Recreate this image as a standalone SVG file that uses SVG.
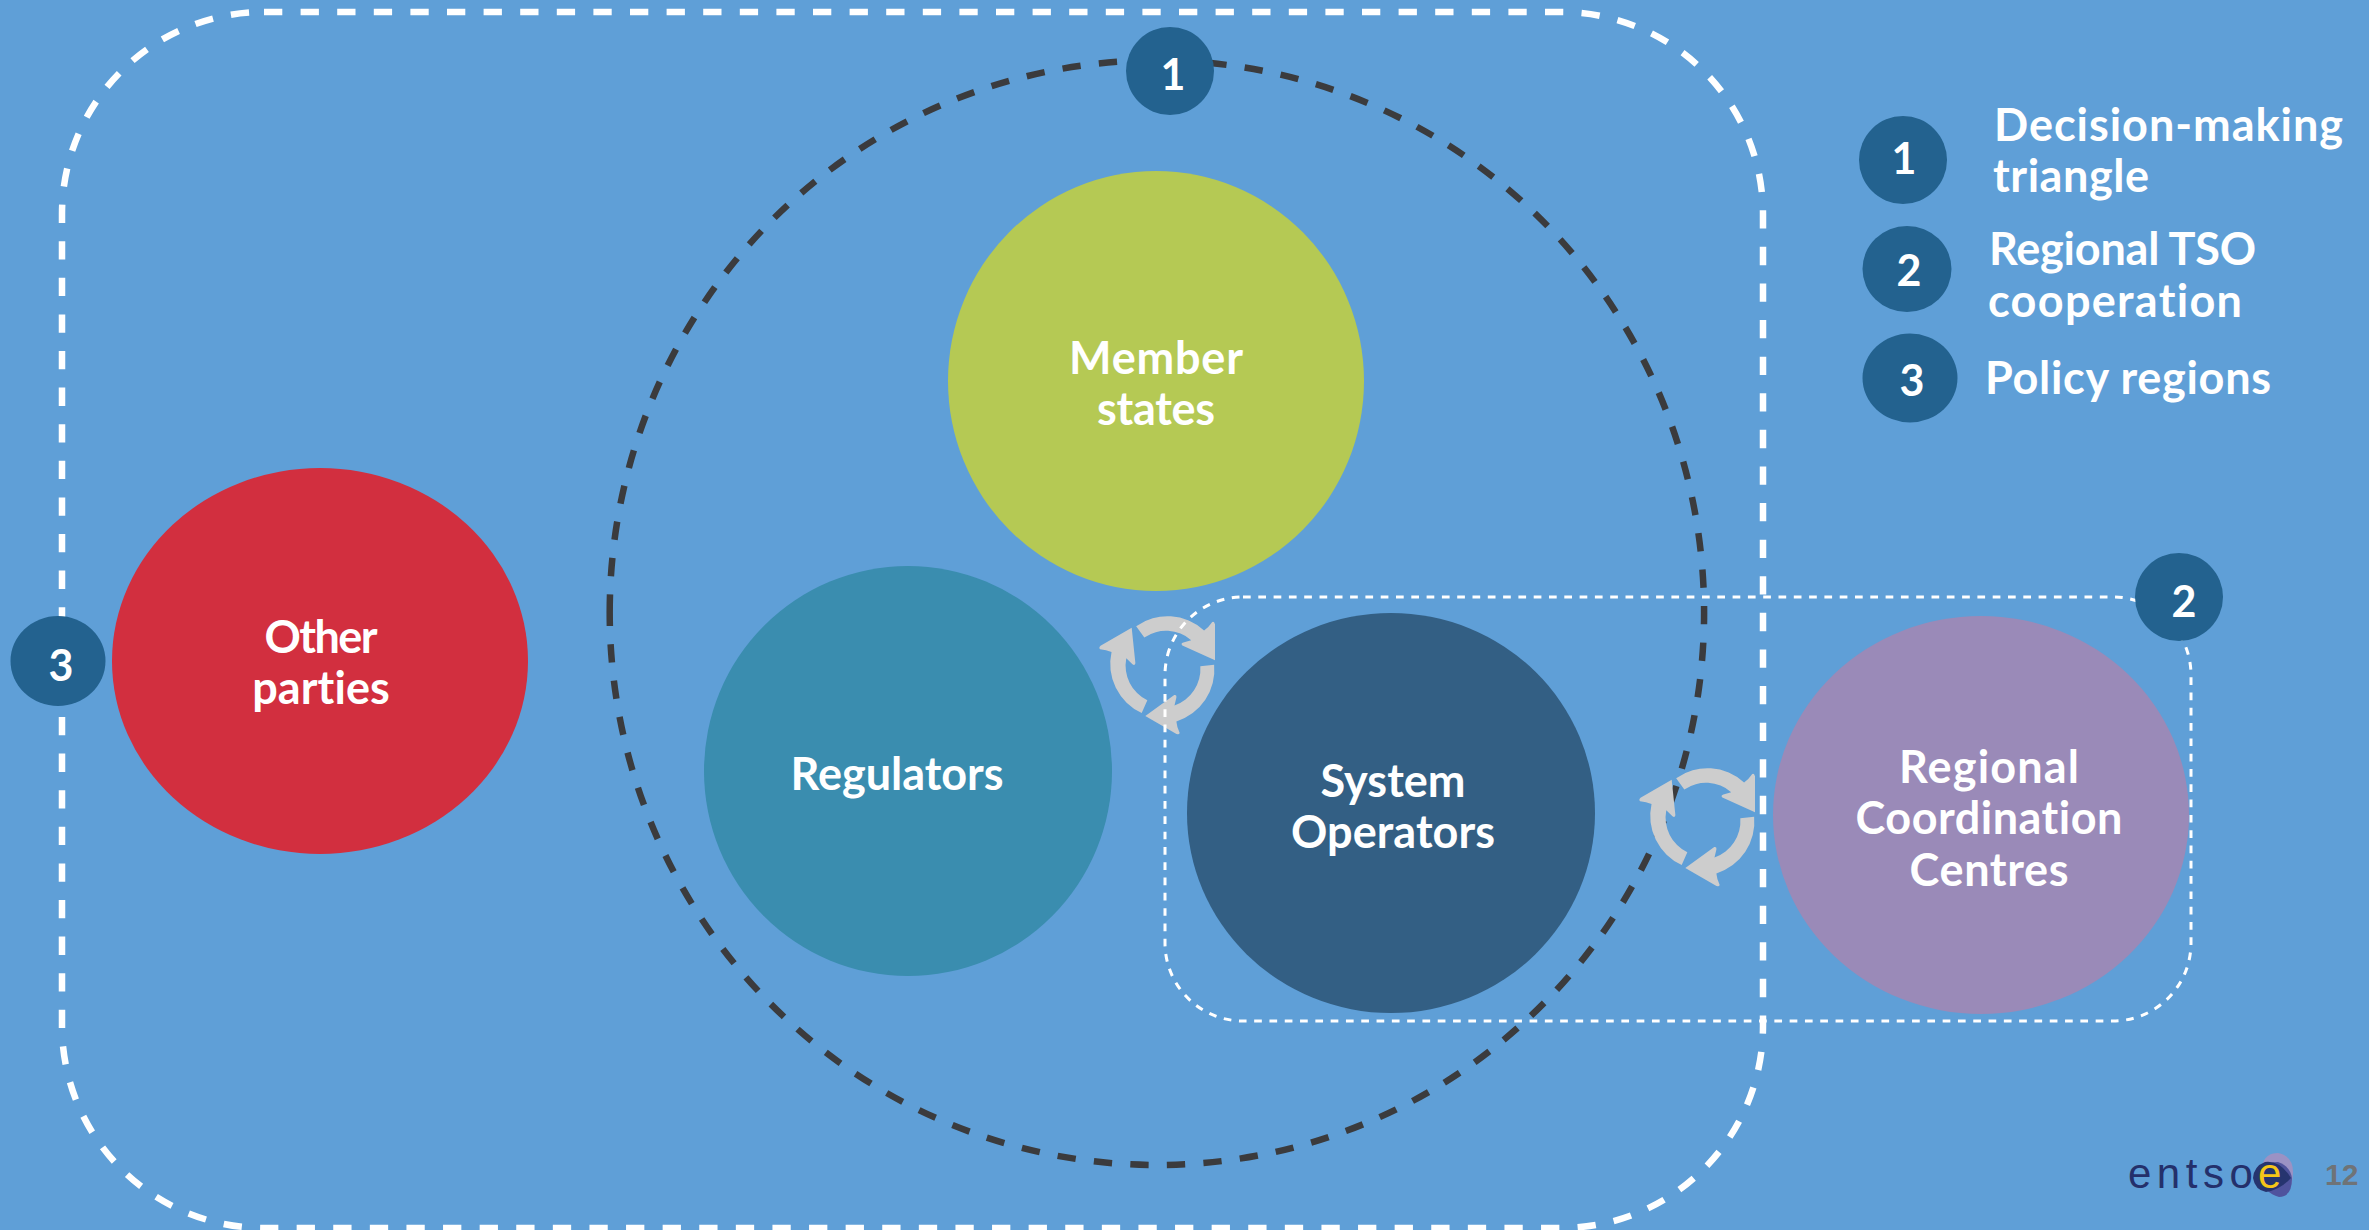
<svg xmlns="http://www.w3.org/2000/svg" width="2369" height="1230" viewBox="0 0 2369 1230">
<style>
text{font-family:"Lato","Liberation Sans",sans-serif;font-weight:700;fill:#fff;font-size:45px;font-variant-ligatures:none}
.m{text-anchor:middle}
.b{fill:#23628f}
.n{font-size:43px;text-anchor:middle}
.a{fill:#cdcdcd}
.w{fill:none;stroke:#fff;stroke-width:6.5;stroke-dasharray:18.3 18.3}
</style>
<defs>
<path id="seg" d="M-27.3-41A53 53 0 0 1 39.3-36.7Q44-40 47.3-45Q49-46 50-43L50-7.7L18-22Q16-24 19-25L26.7-27.3A38 38 0 0 0-19.3-30Z"/>
</defs>
<rect width="2369" height="1230" fill="#5f9fd7"/>
<g id="connectors">
<g class="a" transform="translate(1704 820) scale(1.02)"><use href="#seg"/></g>
<path d="M609.7 612.7A547.2 552.5 0 0 1 1704.1 612.7A547.2 552.5 0 0 1 609.7 612.7Z" fill="none" stroke="#3b3b3d" stroke-width="6.5" stroke-dasharray="18.3 18.3"/>
<path class="w" d="M264 12H1561A202 202 0 0 1 1763 214V1026A202 202 0 0 1 1561 1228H264A202 202 0 0 1 62 1026V214A202 202 0 0 1 264 12Z"/>
</g>
<g id="node-member-states"><ellipse cx="1156" cy="381" rx="208" ry="210" fill="#b5c954"/><text class="m" x="1156" y="374" textLength="174">Member</text><text class="m" x="1156" y="425" textLength="118">states</text></g>
<g id="node-regulators"><ellipse cx="908" cy="771" rx="204" ry="205" fill="#3a8daf"/><text class="m" x="897" y="790" textLength="213">Regulators</text></g>
<g id="node-system-operators"><ellipse cx="1391" cy="813" rx="204" ry="200" fill="#335f84"/><text class="m" x="1393" y="797" textLength="145">System</text><text class="m" x="1393" y="848" textLength="204">Operators</text></g>
<g id="node-rcc"><ellipse cx="1981" cy="815" rx="208" ry="199" fill="#9a8ab8"/><text class="m" x="1989" y="783" textLength="180">Regional</text><text class="m" x="1989" y="834" textLength="267">Coordination</text><text class="m" x="1989" y="886" textLength="159">Centres</text></g>
<g id="node-other-parties"><ellipse cx="320" cy="661" rx="208" ry="193" fill="#d22f3f"/><text class="m" x="321" y="653" textLength="113">Other</text><text class="m" x="321" y="704" textLength="137.5">parties</text></g>
<g id="cycle-1" class="a" transform="translate(1164 668) scale(1.02)"><use href="#seg"/><use href="#seg" transform="rotate(120)"/><use href="#seg" transform="rotate(240)"/></g>
<g id="cycle-2" class="a" transform="translate(1704 820) scale(1.02)"><use href="#seg" transform="rotate(120)"/><use href="#seg" transform="rotate(240)"/></g>
<path id="coop-region" d="M1243 597H2113A78 78 0 0 1 2191 675V943A78 78 0 0 1 2113 1021H1243A78 78 0 0 1 1165 943V675A78 78 0 0 1 1243 597Z" fill="none" stroke="#fff" stroke-width="3" stroke-dasharray="7.7 7.6"/>
<g id="badge-1"><circle class="b" cx="1170" cy="71" r="44"/><text class="n" x="1173" y="90">1</text></g>
<g id="badge-2"><circle class="b" cx="2179" cy="597" r="44"/><text class="n" x="2184" y="617">2</text></g>
<g id="badge-3"><ellipse class="b" cx="58" cy="661" rx="47.5" ry="45"/><text class="n" x="61" y="681">3</text></g>
<g id="legend-1"><circle class="b" cx="1903" cy="160" r="44"/><text class="n" x="1904" y="174">1</text><text x="1994" y="141" textLength="349">Decision-making</text><text x="1993" y="192" textLength="156">triangle</text></g>
<g id="legend-2"><ellipse class="b" cx="1907" cy="269" rx="44.5" ry="43"/><text class="n" x="1909" y="286">2</text><text x="1989" y="265" textLength="267">Regional TSO</text><text x="1988" y="317" textLength="254">cooperation</text></g>
<g id="legend-3"><ellipse class="b" cx="1910" cy="378" rx="47.5" ry="44.5"/><text class="n" x="1912" y="396">3</text><text x="1985" y="394" textLength="286">Policy regions</text></g>
<g id="logo">
<path d="M2262 1166Q2265 1153 2278 1153Q2293 1156 2293 1172Q2293 1186 2285 1194Q2272 1178 2262 1166Z" fill="#9b92c4"/>
<path d="M2261 1178Q2262 1162 2278 1162Q2290 1166 2292 1178Q2292 1197 2279 1197Q2264 1193 2261 1178Z" fill="#4f539d"/>
<path d="M2253 1178Q2254 1166 2265 1162Q2280 1160 2291 1178Q2280 1190 2266 1192Q2255 1190 2253 1178Z" fill="#26346f"/>
<text x="2128" y="1188" style="font-family:'Liberation Sans',sans-serif;font-weight:400;font-size:42px;fill:#24306b;letter-spacing:5.5px">entso</text>
<text x="2258" y="1188" style="font-family:'Liberation Sans',sans-serif;font-weight:400;font-size:42px;fill:#f5c518">e</text>
<text x="2325" y="1185" style="font-family:'Liberation Sans',sans-serif;font-weight:700;font-size:30px;fill:#6f7377">12</text>
</g>
</svg>
